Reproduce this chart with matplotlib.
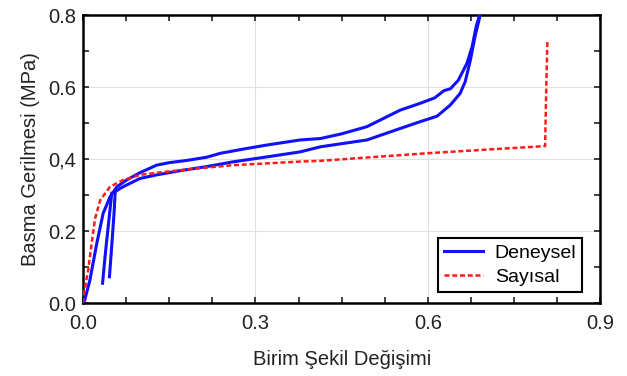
import matplotlib
matplotlib.use('Agg')
import matplotlib.pyplot as plt
from matplotlib.ticker import MultipleLocator, FixedLocator

# --- data ---
exp1_x = [0.0, 0.003, 0.012, 0.024, 0.035, 0.047, 0.059, 0.076, 0.099, 0.128,
          0.150, 0.180, 0.215, 0.239, 0.280, 0.320, 0.378, 0.413, 0.450, 0.494,
          0.552, 0.587, 0.612, 0.620, 0.628, 0.639, 0.653, 0.668, 0.677, 0.684, 0.690]
exp1_y = [0.0, 0.008, 0.064, 0.166, 0.249, 0.295, 0.323, 0.342, 0.362, 0.383,
          0.390, 0.396, 0.405, 0.416, 0.428, 0.439, 0.453, 0.457, 0.470, 0.490,
          0.536, 0.555, 0.570, 0.580, 0.590, 0.595, 0.619, 0.666, 0.712, 0.768, 0.80]

exp2_x = [0.046, 0.050, 0.054, 0.056, 0.064, 0.076, 0.099, 0.128, 0.170, 0.215,
          0.260, 0.320, 0.378, 0.413, 0.494, 0.552, 0.587, 0.616, 0.639, 0.656,
          0.665, 0.674, 0.682, 0.691]
exp2_y = [0.073, 0.16, 0.25, 0.309, 0.318, 0.328, 0.346, 0.356, 0.368, 0.379,
          0.392, 0.406, 0.420, 0.434, 0.453, 0.485, 0.504, 0.519, 0.550, 0.582,
          0.615, 0.675, 0.74, 0.80]

exp3_x = [0.034, 0.039, 0.045, 0.050]
exp3_y = [0.055, 0.14, 0.23, 0.305]

num_x = [0.0, 0.0006, 0.009, 0.015, 0.021, 0.030, 0.047, 0.070, 0.099, 0.146,
         0.200, 0.261, 0.320, 0.378, 0.413, 0.500, 0.598, 0.700, 0.804, 0.806, 0.808]
num_y = [0.0, 0.018, 0.092, 0.166, 0.235, 0.286, 0.323, 0.342, 0.356, 0.365,
         0.374, 0.383, 0.388, 0.393, 0.395, 0.405, 0.416, 0.426, 0.436, 0.60, 0.73]

plt.rcParams['font.family'] = ['Liberation Sans', 'DejaVu Sans']

fig = plt.figure(figsize=(6.27, 3.76), dpi=100)
ax = fig.add_axes([0.1324, 0.194, 0.825, 0.766])

blue = '#1010ff'
red = '#ff1a1a'
ax.plot(exp1_x, exp1_y, color=blue, lw=2.2, label='Deneysel', zorder=3)
ax.plot(exp2_x, exp2_y, color=blue, lw=2.2, zorder=3)
ax.plot(exp3_x, exp3_y, color=blue, lw=2.2, zorder=3)
ax.plot(num_x, num_y, color=red, lw=1.8, linestyle=(0, (2, 1.1)),
        label='Sayısal', zorder=4)

ax.set_xlim(0, 0.9)
ax.set_ylim(0, 0.8)
ax.xaxis.set_major_locator(FixedLocator([0.0, 0.3, 0.6, 0.9]))
ax.xaxis.set_minor_locator(MultipleLocator(0.075))
ax.yaxis.set_major_locator(FixedLocator([0.0, 0.2, 0.4, 0.6, 0.8]))
ax.yaxis.set_minor_locator(MultipleLocator(0.1))
ax.set_xticklabels(['0.0', '0.3', '0.6', '0.9'])
ax.set_yticklabels(['0.0', '0.2', '0,4', '0.6', '0.8'])

ax.tick_params(which='both', direction='in', top=True, right=True,
               length=4, width=1.2, labelsize=14.5, colors='#222222', pad=8)
ax.tick_params(axis='y', pad=5)
for s in ax.spines.values():
    s.set_linewidth(1.8)
    s.set_color('black')
ax.grid(True, which='major', color='#e0e0e0', linewidth=0.8)
ax.set_axisbelow(True)

ax.set_xlabel('Birim Şekil Değişimi', fontsize=14.5, color='#222222', labelpad=12)
ax.set_ylabel('Basma Gerilmesi (MPa)', fontsize=14.5, color='#222222', labelpad=6)

leg = ax.legend(loc='lower right', fontsize=14, fancybox=False, framealpha=1,
                edgecolor='black', handlelength=2.0, borderpad=0.3,
                labelspacing=0.35, handletextpad=0.6, borderaxespad=0,
                bbox_to_anchor=(0.965, 0.038))
leg.get_frame().set_linewidth(1.5)

fig.savefig('out.png', dpi=100)
